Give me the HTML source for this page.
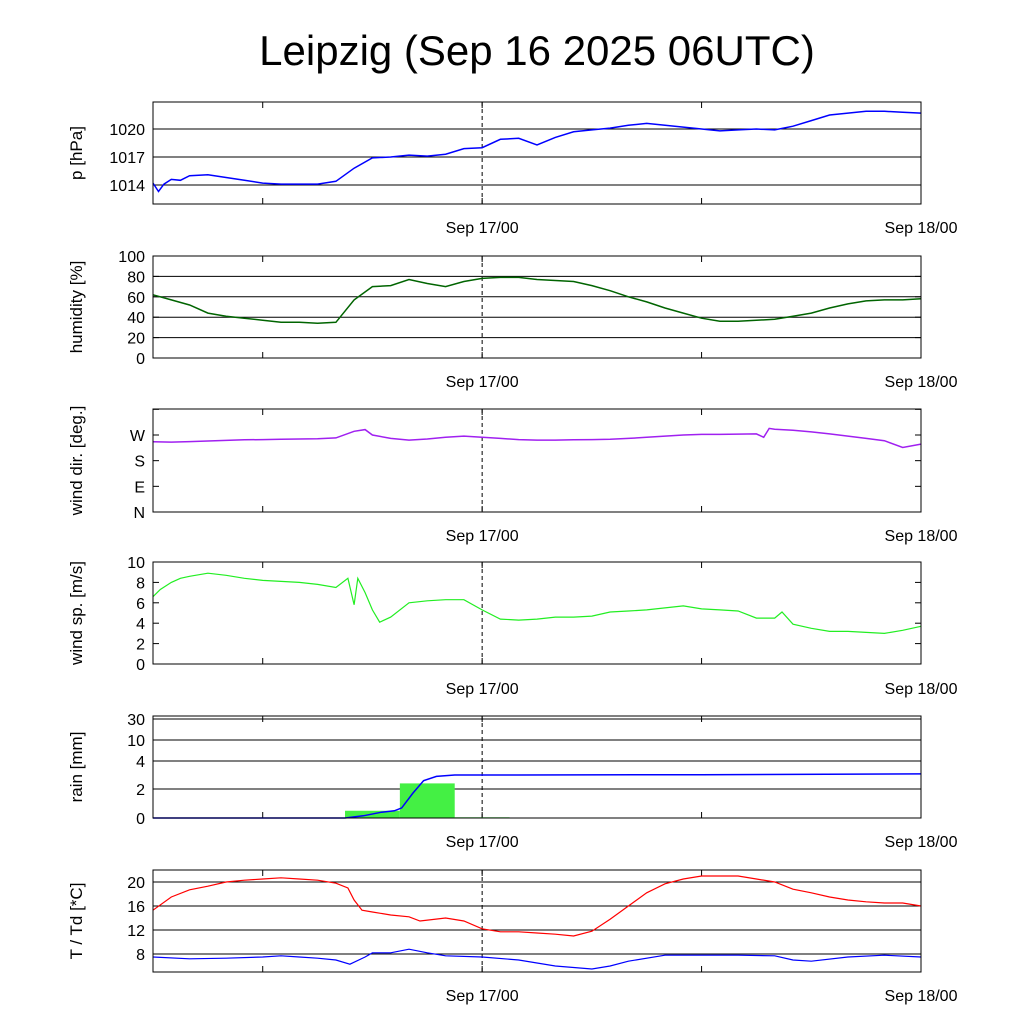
<!DOCTYPE html>
<html><head><meta charset="utf-8">
<style>
html,body{margin:0;padding:0;background:#fff;}
svg{display:block;font-family:"Liberation Sans",sans-serif;}
</style></head>
<body>
<svg id="chart" width="1024" height="1024" viewBox="0 0 1024 1024" xmlns="http://www.w3.org/2000/svg">
<text x="537" y="65" font-size="42" text-anchor="middle">Leipzig (Sep 16 2025 06UTC)</text>
</svg>
<script>
// time in hours since Sep 16 06UTC
const pTimes=[0,0.3,0.6,1,1.5,2,3,4,5,6,7,8,9,10,11,12,13,14,15,16,17,18,19,20,21,22,23,24,25,26,27,28,29,30,31,32,33,34,35,36,37,38,39,40,41,42];
const pVals=[1014.2,1013.3,1014.1,1014.6,1014.5,1015,1015.1,1014.8,1014.5,1014.2,1014.1,1014.1,1014.1,1014.4,1015.8,1016.9,1017,1017.2,1017.1,1017.3,1017.9,1018,1018.9,1019,1018.3,1019.1,1019.7,1019.9,1020.1,1020.4,1020.6,1020.4,1020.2,1020,1019.8,1019.9,1020,1019.9,1020.3,1020.9,1021.5,1021.7,1021.9,1021.9,1021.8,1021.7];
const hTimes=[0,1,2,3,4,5,6,7,8,9,10,11,12,13,14,15,16,17,18,19,20,21,22,23,24,25,26,27,28,29,30,31,32,33,34,35,36,37,38,39,40,41,42];
const hVals=[62,57,52,44,41,39,37,35,35,34,35,57,70,71,77,73,70,75,78,79,79,77,76,75,71,66,60,55,49,44,39,36,36,37,38,41,44,49,53,56,57,57,58];
const dTimes=[0,1,2,3,4,5,6,7,8,9,10,11,11.6,12,13,14,15,16,17,18,19,20,21,22,23,24,25,26,27,28,29,30,31,32,33,33.4,33.7,34,35,36,37,38,39,40,41,42];
const dVals=[246,245,247,249,251,253,254,255,256,257,260,283,289,270,258,252,256,262,266,262,258,254,252,252,253,254,255,258,262,266,270,272,272,273,274,262,293,290,287,281,274,266,258,250,226,238];
const sTimes=[0,0.4,1,1.5,2,3,4,5,6,7,8,9,10,10.66,11,11.2,11.6,12,12.4,13,14,15,16,17,18,19,20,21,22,23,24,25,26,27,28,29,30,31,32,33,34,34.4,35,36,37,38,39,40,41,42];
const sVals=[6.6,7.3,8,8.4,8.6,8.9,8.7,8.4,8.2,8.1,8,7.8,7.5,8.4,5.8,8.4,7,5.3,4.1,4.6,6,6.2,6.3,6.3,5.3,4.4,4.3,4.4,4.6,4.6,4.7,5.1,5.2,5.3,5.5,5.7,5.4,5.3,5.2,4.5,4.5,5.1,3.9,3.5,3.2,3.2,3.1,3,3.3,3.7];
const rainBarStart=[10.5,13.5,16.5];
const rainBarVals=[0.5,2.4,0.05];
const rainCumTimes=[0,10.5,11.5,12.5,13.2,13.6,14.2,14.8,15.5,16.5,20,30,42];
const rainCumVals=[0,0,0.15,0.4,0.5,0.7,1.7,2.6,2.9,3.0,3.0,3.02,3.08];
const tTimes=[0,1,2,3,4,5,6,7,8,9,10,10.66,11,11.43,12,13,14,14.6,16,17,18,19,20,21,22,23,24,25,26,27,28,29,30,31,32,33,34,35,36,37,38,39,40,41,42];
const tVals=[15.3,17.5,18.7,19.3,20,20.3,20.5,20.7,20.5,20.3,19.8,19,17,15.3,15,14.5,14.2,13.5,14,13.5,12.2,11.7,11.7,11.5,11.3,11,11.8,13.8,16,18.2,19.7,20.5,21,21,21,20.5,20,18.8,18.2,17.5,17,16.7,16.5,16.5,16];
const tdTimes=[0,2,4,6,7,8,9,10,10.77,11.6,12,13,14,15,16,18,20,22,24,25,26,28,30,32,34,35,36,38,40,42];
const tdVals=[7.5,7.2,7.3,7.5,7.7,7.5,7.3,7,6.3,7.5,8.2,8.2,8.8,8.2,7.7,7.5,7,6,5.5,6,6.8,7.8,7.8,7.8,7.7,7,6.8,7.5,7.8,7.5];
const xTickHours=[6,18,30,42];
const xLabels=["Sep 17/00","Sep 18/00"];
const xLabelHours=[18,42];

const NS="http://www.w3.org/2000/svg";
const svg=document.getElementById('chart');
const X0=153,X1=921,HMAX=42;
function xs(h){return X0+(X1-X0)*h/HMAX;}
function mk(tag,attrs,parent){const e=document.createElementNS(NS,tag);for(const k in attrs)e.setAttribute(k,attrs[k]);(parent||svg).appendChild(e);return e;}
function lin(v0,v1,y0,y1){return v=>y0+(v-v0)*(y1-y0)/(v1-v0);}
function pw(vs,ys){return v=>{for(let i=0;i<vs.length-1;i++){if(v<=vs[i+1]||i==vs.length-2){return ys[i]+(v-vs[i])*(ys[i+1]-ys[i])/(vs[i+1]-vs[i]);}}};}

const panels=[
 {name:'pressure',top:102,bot:204,y:lin(1014,1020,185,129),ticks:[[1014,'1014'],[1017,'1017'],[1020,'1020']],grid:[1014,1017,1020],title:'p [hPa]',labY:227},
 {name:'humidity',top:256,bot:358,y:lin(0,100,358,256),ticks:[[0,'0'],[20,'20'],[40,'40'],[60,'60'],[80,'80'],[100,'100']],grid:[20,40,60,80],title:'humidity [%]',labY:381},
 {name:'wind-direction',top:409,bot:512,y:lin(0,270,512,435),ticks:[[0,'N'],[90,'E'],[180,'S'],[270,'W']],grid:[],extraTicks:[360],title:'wind dir. [deg.]',labY:535},
 {name:'wind-speed',top:562,bot:664,y:lin(0,10,664,562),ticks:[[0,'0'],[2,'2'],[4,'4'],[6,'6'],[8,'8'],[10,'10']],grid:[],title:'wind sp. [m/s]',labY:688},
 {name:'rain',top:716,bot:818,y:pw([0,2,4,10,30,40],[818,789,761,740,719,709]),ticks:[[0,'0'],[2,'2'],[4,'4'],[10,'10'],[30,'30']],grid:[2,4,10,30],title:'rain [mm]',labY:841},
 {name:'temperature',top:870,bot:972,y:lin(8,20,954,882),ticks:[[8,'8'],[12,'12'],[16,'16'],[20,'20']],grid:[8,12,16,20],title:'T / Td [*C]',labY:995}
];
const P={};
panels.forEach(p=>{
 P[p.name]=p;
 const g=mk('g',{});
 
 
 p.g=g;
 p.grid.forEach(v=>{const l=mk('line',{x1:X0,x2:X1,y1:p.y(v),y2:p.y(v),stroke:'#000','stroke-width':1},g);
  
  });
 const d=mk('line',{x1:xs(18),x2:xs(18),y1:p.top,y2:p.bot,stroke:'#000','stroke-width':1,'stroke-dasharray':'4,3'},g);
 
 
 p.ticks.forEach(([v,lab])=>{const y=p.y(v);
  mk('line',{x1:X0,x2:X0+6,y1:y,y2:y,stroke:'#000'},g);mk('line',{x1:X1-6,x2:X1,y1:y,y2:y,stroke:'#000'},g);
  const t=mk('text',{x:X0-8,y:y+6,'font-size':16,'text-anchor':'end'},g);t.textContent=lab;
  
  });
 (p.extraTicks||[]).forEach(v=>{const y=p.y(v);mk('line',{x1:X0,x2:X0+6,y1:y,y2:y,stroke:'#000'},g);mk('line',{x1:X1-6,x2:X1,y1:y,y2:y,stroke:'#000'},g);});
 xTickHours.forEach(h=>{const x=xs(h);mk('line',{x1:x,x2:x,y1:p.bot,y2:p.bot-6,stroke:'#000'},g);mk('line',{x1:x,x2:x,y1:p.top,y2:p.top+6,stroke:'#000'},g);});
 xLabels.forEach((lab,i)=>{const t=mk('text',{x:xs(xLabelHours[i]),y:p.labY+6,'font-size':16,'text-anchor':'middle'},g);t.textContent=lab;
  
  });
 const cy=(p.top+p.bot)/2;
 const tt=mk('text',{x:0,y:0,'font-size':17,'text-anchor':'middle',transform:`translate(82,${cy}) rotate(-90)`},g);tt.textContent=p.title;
 
 
});
function line(p,ts,vs,color,name,w){
 const pts=ts.map((t,i)=>xs(t).toFixed(1)+','+p.y(vs[i]).toFixed(1)).join(' ');
 const l=mk('polyline',{points:pts,fill:'none',stroke:color,'stroke-width':w||1.3},p.g);
 
 
}
// rain bars first
rainBarStart.forEach((s,i)=>{const p=P.rain;const y=p.y(rainBarVals[i]);
 const r=mk('rect',{x:xs(s),y:y,width:xs(s+3)-xs(s),height:p.y(0)-y,fill:'#44f044'},p.g);
 
 });
line(P.pressure,pTimes,pVals,'#0000ff','pressure-line',1.5);
line(P.humidity,hTimes,hVals,'#006400','humidity-line',1.5);
line(P['wind-direction'],dTimes,dVals,'#a020f0','wind-direction-line',1.5);
line(P['wind-speed'],sTimes,sVals,'#22ee22','wind-speed-line',1.2);
line(P.rain,rainCumTimes,rainCumVals,'#0000ff','cumulative-rain-line',1.5);
line(P.temperature,tTimes,tVals,'#ff0000','temperature-line',1.2);
line(P.temperature,tdTimes,tdVals,'#0000ff','dewpoint-line',1.2);
panels.forEach(p=>{const r=mk('rect',{x:X0,y:p.top,width:X1-X0,height:p.bot-p.top,fill:'none',stroke:'#000','stroke-width':1},p.g);
 
 });
</script>
</body></html>
